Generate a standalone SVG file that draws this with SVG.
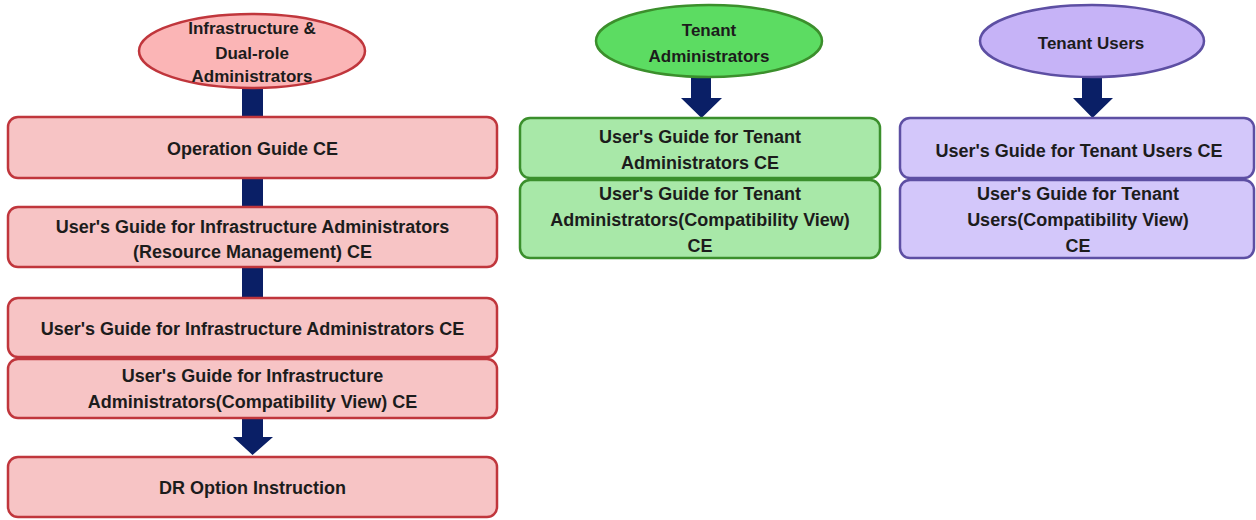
<svg xmlns="http://www.w3.org/2000/svg" width="1256" height="520" viewBox="0 0 1256 520">
<style>
text{font-family:"Liberation Sans",Arial,sans-serif;font-weight:bold;font-size:18px;fill:#1c1c1c;text-anchor:middle}
.el{font-size:17px}
.rbox{fill:#f7c4c5;stroke:#c0363c;stroke-width:2.5}
.rel{fill:#fbb5b6;stroke:#c0363c;stroke-width:2.5}
.gbox{fill:#a8e8a8;stroke:#3b8f2c;stroke-width:2.5}
.gel{fill:#5cdc62;stroke:#3b8f2c;stroke-width:2.5}
.pbox{fill:#d3c7fa;stroke:#5d4fa3;stroke-width:2.5}
.pel{fill:#c6b3f7;stroke:#5d4fa3;stroke-width:2.5}
.arr{fill:#0a1f66}
</style>
<g id="connectors">
<rect class="arr" x="242" y="86" width="21" height="32"/>
<rect class="arr" x="242" y="177" width="21" height="31"/>
<rect class="arr" x="242" y="266" width="21" height="33"/>
<path class="arr" d="M242,417 H263 V437 H273 L252.5,455 L233,437 H242 Z"/>
<path class="arr" d="M691,76 H711 V98 H722 L701.5,118 L681,98 H691 Z"/>
<path class="arr" d="M1082,76 H1102 V98 H1113 L1092.5,118 L1073,98 H1082 Z"/>
</g>
<g id="infra-admins">
<ellipse class="rel" cx="252" cy="51" rx="113" ry="37"/>
<text class="el" x="252" y="34">Infrastructure &amp;</text>
<text class="el" x="252" y="59">Dual-role</text>
<text class="el" x="252" y="82">Administrators</text>
</g>
<g id="operation-guide">
<rect class="rbox" x="8" y="117" width="489" height="61" rx="10"/>
<text x="252.5" y="155">Operation Guide CE</text>
</g>
<g id="ug-infra-rm">
<rect class="rbox" x="8" y="207" width="489" height="60" rx="10"/>
<text x="252.5" y="233">User's Guide for Infrastructure Administrators</text>
<text x="252.5" y="258">(Resource Management) CE</text>
</g>
<g id="ug-infra">
<rect class="rbox" x="8" y="298" width="489" height="59" rx="10"/>
<text x="252.5" y="335">User's Guide for Infrastructure Administrators CE</text>
</g>
<g id="ug-infra-compat">
<rect class="rbox" x="8" y="359" width="489" height="59" rx="10"/>
<text x="252.5" y="382">User's Guide for Infrastructure</text>
<text x="252.5" y="408">Administrators(Compatibility View) CE</text>
</g>
<g id="dr-option">
<rect class="rbox" x="8" y="457" width="489" height="60" rx="10"/>
<text x="252.5" y="494">DR Option Instruction</text>
</g>
<g id="tenant-admins">
<ellipse class="gel" cx="709" cy="41" rx="113" ry="36"/>
<text class="el" x="709" y="36">Tenant</text>
<text class="el" x="709" y="62">Administrators</text>
</g>
<g id="ug-tenant-admins">
<rect class="gbox" x="520" y="118" width="360" height="60" rx="10"/>
<text x="700" y="143">User's Guide for Tenant</text>
<text x="700" y="169">Administrators CE</text>
</g>
<g id="ug-tenant-admins-compat">
<rect class="gbox" x="520" y="180" width="360" height="78" rx="10"/>
<text x="700" y="200">User's Guide for Tenant</text>
<text x="700" y="226">Administrators(Compatibility View)</text>
<text x="700" y="252">CE</text>
</g>
<g id="tenant-users">
<ellipse class="pel" cx="1092" cy="41" rx="112" ry="36"/>
<text class="el" x="1091" y="49">Tenant Users</text>
</g>
<g id="ug-tenant-users">
<rect class="pbox" x="900" y="118" width="354" height="60" rx="10"/>
<text x="1079" y="157">User's Guide for Tenant Users CE</text>
</g>
<g id="ug-tenant-users-compat">
<rect class="pbox" x="900" y="180" width="354" height="78" rx="10"/>
<text x="1078" y="200">User's Guide for Tenant</text>
<text x="1078" y="226">Users(Compatibility View)</text>
<text x="1078" y="252">CE</text>
</g>
</svg>
